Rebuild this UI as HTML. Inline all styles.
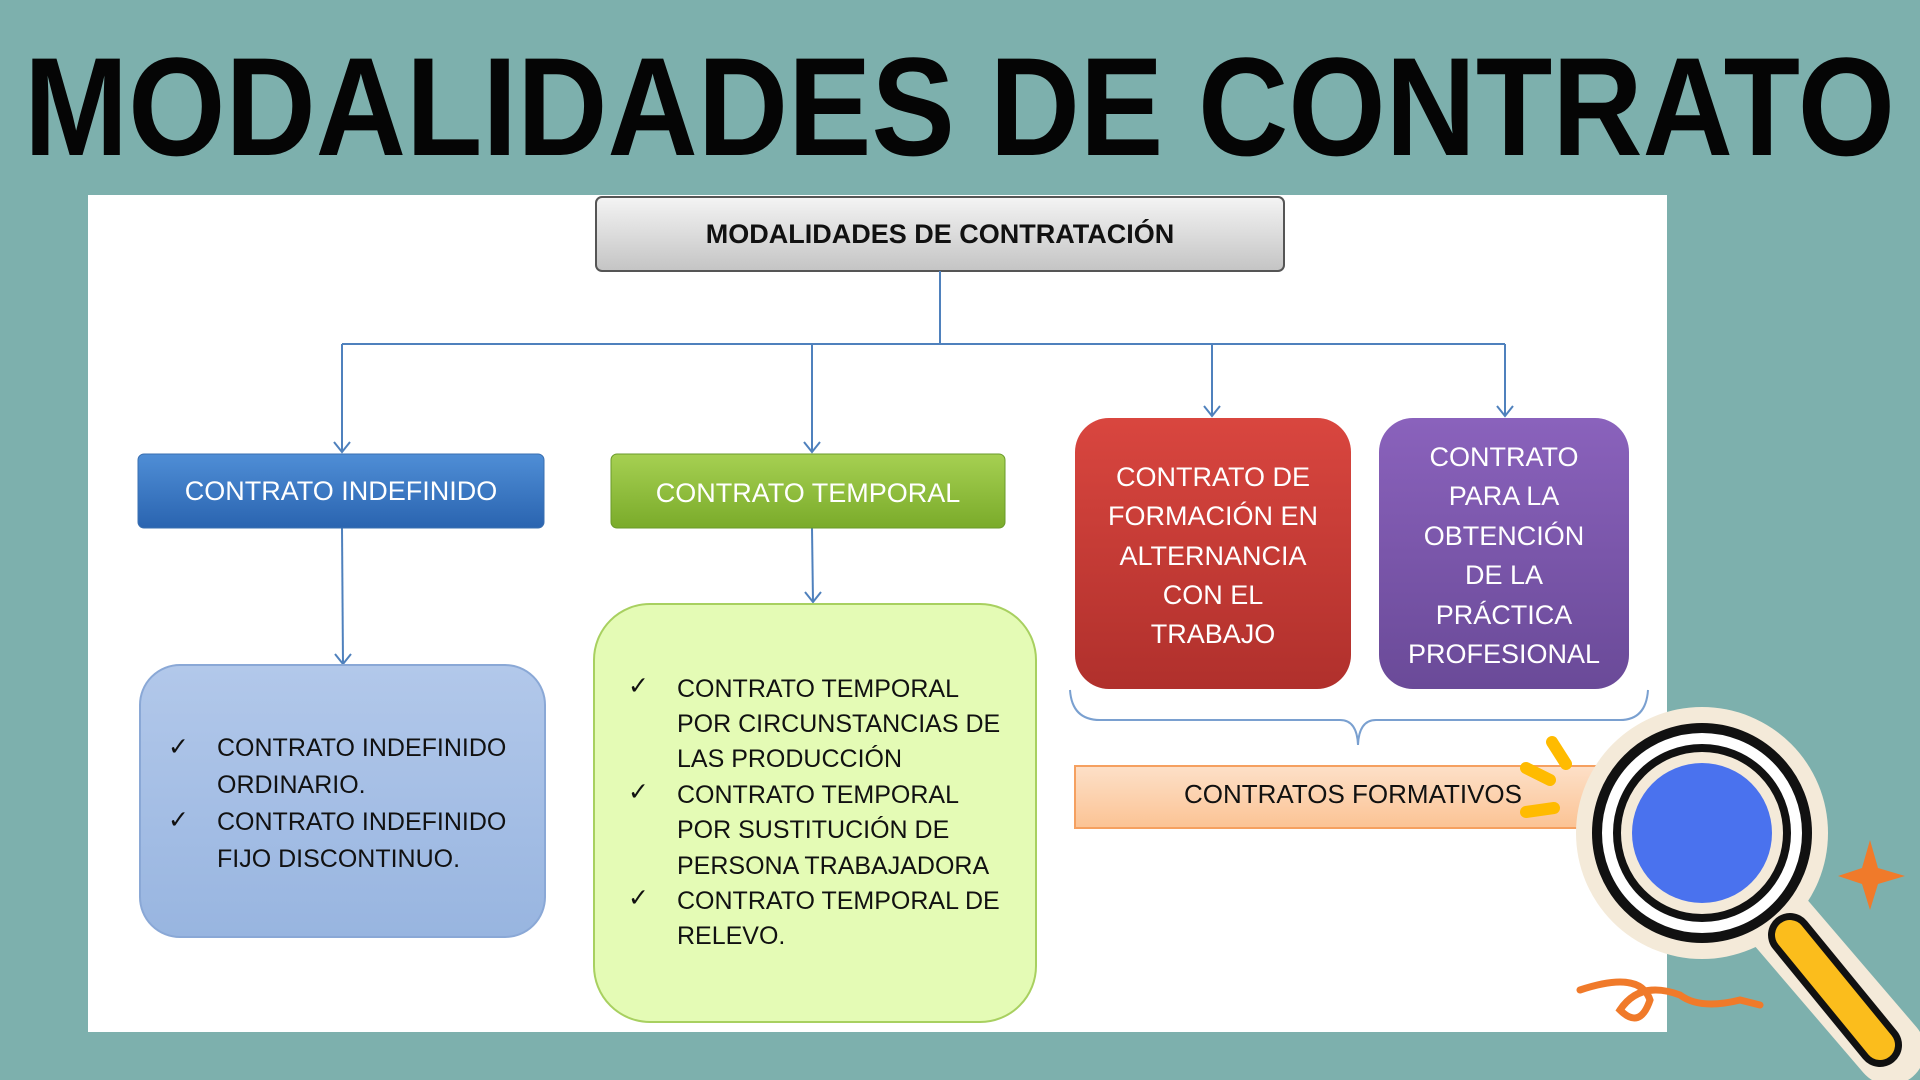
<!DOCTYPE html>
<html><head><meta charset="utf-8"><style>
html,body{margin:0;padding:0;width:1920px;height:1080px;overflow:hidden;background:#7db0ad;}
svg{display:block}
text{font-family:"Liberation Sans","DejaVu Sans",sans-serif;}
</style></head><body>
<svg width="1920" height="1080" viewBox="0 0 1920 1080" xmlns="http://www.w3.org/2000/svg">
<defs>
<linearGradient id="gTop" x1="0" y1="0" x2="0" y2="1"><stop offset="0" stop-color="#f4f4f4"/><stop offset="1" stop-color="#c4c4c4"/></linearGradient>
<linearGradient id="gBlue" x1="0" y1="0" x2="0" y2="1"><stop offset="0" stop-color="#4f8ed6"/><stop offset="1" stop-color="#2a64b0"/></linearGradient>
<linearGradient id="gGreen" x1="0" y1="0" x2="0" y2="1"><stop offset="0" stop-color="#a6d052"/><stop offset="1" stop-color="#7aab2a"/></linearGradient>
<linearGradient id="gRed" x1="0" y1="0" x2="0" y2="1"><stop offset="0" stop-color="#d9463f"/><stop offset="1" stop-color="#b0302c"/></linearGradient>
<linearGradient id="gPur" x1="0" y1="0" x2="0" y2="1"><stop offset="0" stop-color="#8a62bc"/><stop offset="1" stop-color="#6a4a98"/></linearGradient>
<linearGradient id="gLB" x1="0" y1="0" x2="0" y2="1"><stop offset="0" stop-color="#b2c8ea"/><stop offset="1" stop-color="#98b5e0"/></linearGradient>
<linearGradient id="gOr" x1="0" y1="0" x2="0" y2="1"><stop offset="0" stop-color="#fde0c8"/><stop offset="1" stop-color="#fbc394"/></linearGradient>
</defs>
<rect width="1920" height="1080" fill="#7db0ad"/>
<text x="24" y="155" font-size="140" font-weight="bold" textLength="1871" lengthAdjust="spacingAndGlyphs" fill="#050505">MODALIDADES DE CONTRATO</text>
<rect x="88" y="195" width="1579" height="837" fill="#ffffff"/>
<rect x="596" y="197" width="688" height="74" rx="6" fill="url(#gTop)" stroke="#555" stroke-width="2"/>
<text x="940" y="243" font-size="27" font-weight="bold" text-anchor="middle" fill="#111">MODALIDADES DE CONTRATACIÓN</text>
<g stroke="#4f81bd" stroke-width="2" fill="none">
<line x1="940" y1="271" x2="940" y2="344"/>
<line x1="342" y1="344" x2="1505" y2="344"/>
<line x1="342" y1="344" x2="342" y2="452"/>
<line x1="812" y1="344" x2="812" y2="452"/>
<line x1="1212" y1="344" x2="1212" y2="416"/>
<line x1="1505" y1="344" x2="1505" y2="416"/>
<line x1="342" y1="528" x2="343" y2="664"/>
<line x1="812" y1="528" x2="813" y2="602"/>
<polyline points="334,442 342,452 350,442"/>
<polyline points="804,442 812,452 820,442"/>
<polyline points="1204,406 1212,416 1220,406"/>
<polyline points="1497,406 1505,416 1513,406"/>
<polyline points="335,654 343,664 351,654"/>
<polyline points="805,592 813,602 821,592"/>
<path d="M1070,690 Q1072,720 1100,720 L1340,720 Q1357,720 1358,745 Q1359,720 1376,720 L1620,720 Q1646,720 1648,690" stroke="#7aa0d0"/>
</g>
<rect x="138" y="454" width="406" height="74" rx="6" fill="url(#gBlue)" stroke="#3a6fb0"/>
<text x="341" y="500" font-size="27" text-anchor="middle" fill="#fff">CONTRATO INDEFINIDO</text>
<rect x="611" y="454" width="394" height="74" rx="6" fill="url(#gGreen)" stroke="#6a9a2a"/>
<text x="808" y="502" font-size="27" text-anchor="middle" fill="#fff">CONTRATO TEMPORAL</text>
<rect x="1075" y="418" width="276" height="271" rx="34" fill="url(#gRed)"/>
<g font-size="27" text-anchor="middle" fill="#fff">
<text x="1213" y="486">CONTRATO DE</text>
<text x="1213" y="525">FORMACIÓN EN</text>
<text x="1213" y="565">ALTERNANCIA</text>
<text x="1213" y="604">CON EL</text>
<text x="1213" y="643">TRABAJO</text>
</g>
<rect x="1379" y="418" width="250" height="271" rx="34" fill="url(#gPur)"/>
<g font-size="27" text-anchor="middle" fill="#fff">
<text x="1504" y="466">CONTRATO</text>
<text x="1504" y="505">PARA LA</text>
<text x="1504" y="545">OBTENCIÓN</text>
<text x="1504" y="584">DE LA</text>
<text x="1504" y="624">PRÁCTICA</text>
<text x="1504" y="663">PROFESIONAL</text>
</g>
<rect x="140" y="665" width="405" height="272" rx="40" fill="url(#gLB)" stroke="#8aa8d6" stroke-width="2"/>
<g font-size="25" fill="#111">
<text x="168" y="755">✓</text><text x="217" y="756">CONTRATO INDEFINIDO</text>
<text x="217" y="793">ORDINARIO.</text>
<text x="168" y="828">✓</text><text x="217" y="830">CONTRATO INDEFINIDO</text>
<text x="217" y="867">FIJO DISCONTINUO.</text>
</g>
<rect x="594" y="604" width="442" height="418" rx="56" fill="#e4fbb5" stroke="#a8d060" stroke-width="2"/>
<g font-size="25" fill="#111">
<text x="628" y="694">✓</text><text x="677" y="697">CONTRATO TEMPORAL</text>
<text x="677" y="732">POR CIRCUNSTANCIAS DE</text>
<text x="677" y="767">LAS PRODUCCIÓN</text>
<text x="628" y="800">✓</text><text x="677" y="803">CONTRATO TEMPORAL</text>
<text x="677" y="838">POR SUSTITUCIÓN DE</text>
<text x="677" y="874">PERSONA TRABAJADORA</text>
<text x="628" y="906">✓</text><text x="677" y="909">CONTRATO TEMPORAL DE</text>
<text x="677" y="944">RELEVO.</text>
</g>
<rect x="1075" y="766" width="560" height="62" fill="url(#gOr)" stroke="#f5a060" stroke-width="2"/>
<text x="1353" y="803" font-size="26" text-anchor="middle" fill="#111">CONTRATOS FORMATIVOS</text>
<g stroke="#ffbb00" stroke-width="12" stroke-linecap="round">
<line x1="1552" y1="742" x2="1566" y2="764"/>
<line x1="1526" y1="768" x2="1550" y2="780"/>
<line x1="1526" y1="812" x2="1554" y2="808"/>
</g>
<g>
<line x1="1770" y1="910" x2="1890" y2="1050" stroke="#f4ead9" stroke-width="70" stroke-linecap="round"/>
<circle cx="1702" cy="833" r="126" fill="#f4ead9"/>
<line x1="1790" y1="935" x2="1880" y2="1045" stroke="#111" stroke-width="44" stroke-linecap="round"/>
<line x1="1790" y1="935" x2="1880" y2="1045" stroke="#fbbd1c" stroke-width="30" stroke-linecap="round"/>
<circle cx="1702" cy="833" r="105" fill="#fff" stroke="#111" stroke-width="10"/>
<circle cx="1702" cy="833" r="85" fill="#f4ead9" stroke="#111" stroke-width="8"/>
<circle cx="1702" cy="833" r="70" fill="#4a72ee"/>
</g>
<path d="M1580,990 Q1640,970 1650,1000 Q1640,1030 1620,1010 Q1640,980 1680,995 Q1700,1010 1740,1000 L1760,1005" stroke="#f07a2a" stroke-width="7" fill="none" stroke-linecap="round"/>
<path d="M1870,840 L1878,868 L1905,876 L1878,884 L1870,910 L1862,884 L1838,876 L1862,868 Z" fill="#f07a2a"/>
</svg>
</body></html>
